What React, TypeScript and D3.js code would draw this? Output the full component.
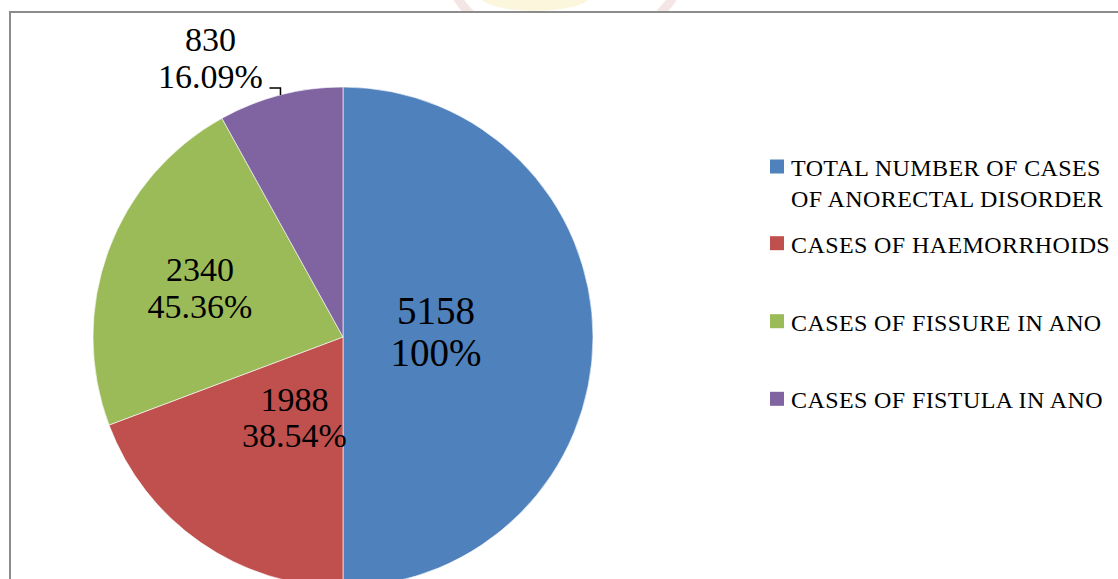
import React, { useEffect, useRef } from "react";
import * as d3 from "d3";

const categories = [
  "TOTAL NUMBER OF CASES OF ANORECTAL DISORDER",
  "CASES OF HAEMORRHOIDS",
  "CASES OF FISSURE IN ANO",
  "CASES OF FISTULA IN ANO",
];
const legendLines = [
  ["TOTAL NUMBER OF CASES", "OF ANORECTAL DISORDER"],
  ["CASES OF HAEMORRHOIDS"],
  ["CASES OF FISSURE IN ANO"],
  ["CASES OF FISTULA IN ANO"],
];
const values = [5158, 1988, 2340, 830];
const percentLabels = ["100%", "38.54%", "45.36%", "16.09%"];
const colors = ["#4F81BD", "#C0504D", "#9BBB59", "#8064A2"];

const W = 1118;
const H = 579;

export default function App() {
  const ref = useRef<SVGSVGElement | null>(null);

  useEffect(() => {
    const svg = d3.select(ref.current);
    svg.selectAll("*").remove();
    const font = "'Liberation Serif', 'Times New Roman', serif";

    // faint watermark at top
    svg
      .append("defs")
      .append("clipPath")
      .attr("id", "wmclip")
      .append("rect")
      .attr("x", 0)
      .attr("y", 0)
      .attr("width", W)
      .attr("height", 11);
    const wm = svg.append("g").attr("clip-path", "url(#wmclip)");
    wm.append("circle")
      .attr("cx", 565)
      .attr("cy", -75)
      .attr("r", 130)
      .attr("fill", "none")
      .attr("stroke", "#eed6d6")
      .attr("stroke-width", 9)
      .attr("opacity", 0.6);
    wm.append("ellipse")
      .attr("cx", 535)
      .attr("cy", -4)
      .attr("rx", 55)
      .attr("ry", 15)
      .attr("fill", "#fcf6dc");

    // chart frame
    svg
      .append("rect")
      .attr("x", 10)
      .attr("y", 12)
      .attr("width", W + 20)
      .attr("height", H + 20)
      .attr("fill", "none")
      .attr("stroke", "#8c8c8c")
      .attr("stroke-width", 2);

    const cx = 343;
    const cy = 337;
    const r = 250;
    const g = svg.append("g").attr("transform", `translate(${cx},${cy})`);

    const pie = d3.pie<number>().sort(null).value((d) => d);
    const arcs = pie(values);
    const arc = d3.arc<d3.PieArcDatum<number>>().innerRadius(0).outerRadius(r);

    g.selectAll("path.slice")
      .data(arcs)
      .enter()
      .append("path")
      .attr("class", "slice")
      .attr("d", arc)
      .attr("fill", (_, i) => colors[i])
      .attr("stroke", "#ffffff")
      .attr("stroke-opacity", 0.6)
      .attr("stroke-width", 1);

    // inside labels
    const labelRadius = [0.373, 0.375, 0.605];
    const labelAngleShift = [-3.7, -3.5, -1.3];
    const labelSize = [39, 34, 34];
    const lineGap = [42, 36, 37];
    arcs.slice(0, 3).forEach((a, i) => {
      const mid = (a.startAngle + a.endAngle) / 2 + (labelAngleShift[i] * Math.PI) / 180;
      const lr = r * labelRadius[i];
      const x = lr * Math.sin(mid);
      const y = -lr * Math.cos(mid);
      const f = labelSize[i];
      const t = g
        .append("text")
        .attr("font-family", font)
        .attr("font-size", f)
        .attr("fill", "#000")
        .attr("text-anchor", "middle");
      t.append("tspan")
        .attr("x", x)
        .attr("y", y - lineGap[i] / 2 + 0.35 * f)
        .text(String(a.data));
      t.append("tspan")
        .attr("x", x)
        .attr("y", y + lineGap[i] / 2 + 0.35 * f)
        .text(percentLabels[i]);
    });

    // outside label with leader for the last slice
    const last = arcs[3];
    const midL = (last.startAngle + last.endAngle) / 2;
    const px = r * Math.sin(midL);
    const py = -r * Math.cos(midL);
    const ly = py - 7;
    const lx = px - 11;
    g.append("path")
      .attr("d", `M${px},${py} L${px},${ly} L${lx},${ly}`)
      .attr("fill", "none")
      .attr("stroke", "#000")
      .attr("stroke-width", 1.5);
    const tx = lx - 59;
    const t4 = g
      .append("text")
      .attr("font-family", font)
      .attr("font-size", 34)
      .attr("fill", "#000")
      .attr("text-anchor", "middle");
    t4.append("tspan").attr("x", tx).attr("y", ly - 37).text(String(last.data));
    t4.append("tspan").attr("x", tx).attr("y", ly).text(percentLabels[3]);

    // legend
    const legendY = [176, 252.7, 330.7, 408.3];
    const leg = svg.append("g");
    categories.forEach((c, i) => {
      const row = leg.append("g").attr("data-name", c);
      row
        .append("rect")
        .attr("x", 770)
        .attr("y", legendY[i] - 16.5)
        .attr("width", 14)
        .attr("height", 14)
        .attr("fill", colors[i]);
      legendLines[i].forEach((ln, j) => {
        row
          .append("text")
          .attr("x", 791)
          .attr("y", legendY[i] + j * 31.3)
          .attr("font-family", font)
          .attr("font-size", 24)
          .attr("letter-spacing", 0.4)
          .attr("fill", "#000")
          .text(ln);
      });
    });
  }, []);

  return (
    <svg
      ref={ref}
      width={W}
      height={H}
      style={{ position: "absolute", left: 0, top: 0, background: "#fff", display: "block" }}
    />
  );
}
